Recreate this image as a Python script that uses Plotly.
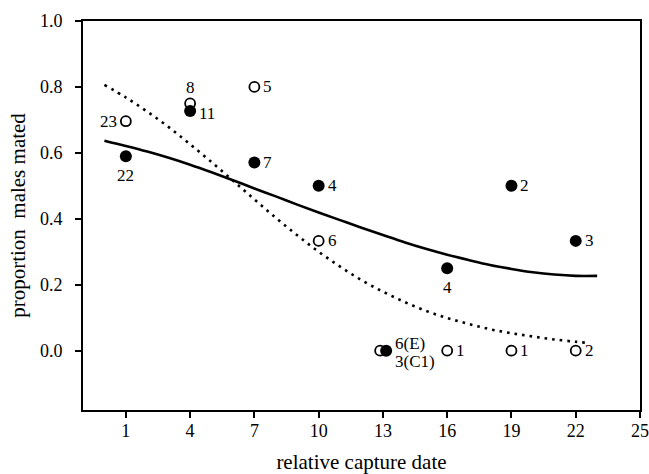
import plotly.graph_objects as go

# Observed proportions (filled = mated group A, open = group B)
filled_x = [1, 4, 7, 10, 13.15, 16, 19, 22]
filled_y = [0.59, 0.727, 0.571, 0.50, 0.0, 0.25, 0.50, 0.333]
filled_lbl = ["22", "11", "7", "4", "3(C1)", "4", "2", "3"]

open_x = [1, 4, 7, 10, 12.87, 16, 19, 22]
open_y = [0.696, 0.75, 0.80, 0.333, 0.0, 0.0, 0.0, 0.0]
open_lbl = ["23", "8", "5", "6", "6(E)", "1", "1", "2"]

# Fitted curves
solid_x = [0, 1, 2, 3, 4, 5, 6, 7, 8, 9, 10, 11, 12, 13, 14, 15, 16, 17, 18, 19, 20, 21, 22, 23]
solid_y = [0.637, 0.621, 0.604, 0.585, 0.564, 0.541, 0.517, 0.492, 0.468, 0.443, 0.419, 0.396,
           0.373, 0.351, 0.329, 0.309, 0.291, 0.275, 0.260, 0.248, 0.238, 0.231, 0.227, 0.227]

dot_x = [0, 1, 2, 3, 4, 5, 6, 7, 8, 9, 10, 11, 12, 13, 14, 15, 16, 17, 18, 19, 20, 21, 22, 22.5]
dot_y = [0.806, 0.768, 0.725, 0.678, 0.626, 0.572, 0.516, 0.459, 0.403, 0.350, 0.300, 0.255,
         0.214, 0.179, 0.148, 0.121, 0.099, 0.081, 0.065, 0.053, 0.043, 0.034, 0.027, 0.024]

x_ticks = [1, 4, 7, 10, 13, 16, 19, 22, 25]
y_ticks = [0.0, 0.2, 0.4, 0.6, 0.8, 1.0]

# label placement: (xshift, yshift, xanchor)
filled_pos = [(0, -19, "center"), (7, -2, "left"), (7, 0, "left"), (7, 0, "left"),
              (7, -11, "left"), (0, -19, "center"), (7, 0, "left"), (7, 0, "left")]
open_pos = [(-7, 0, "right"), (0, 16, "center"), (7, 0, "left"), (7, 0, "left"),
            (13, 7, "left"), (7, 0, "left"), (7, 0, "left"), (7, 0, "left")]

FONT = "Liberation Serif"

fig = go.Figure()
fig.add_trace(go.Scatter(x=dot_x, y=dot_y, mode="lines", line_shape="spline",
                         line=dict(color="black", width=2.6, dash="2.6px,5px"),
                         hoverinfo="skip", showlegend=False))
fig.add_trace(go.Scatter(x=solid_x, y=solid_y, mode="lines", line_shape="spline",
                         line=dict(color="black", width=2.6),
                         hoverinfo="skip", showlegend=False))
fig.add_trace(go.Scatter(x=open_x, y=open_y, mode="markers",
                         marker=dict(symbol="circle", size=10, color="white",
                                     line=dict(color="black", width=1.8)),
                         showlegend=False))
fig.add_trace(go.Scatter(x=filled_x, y=filled_y, mode="markers",
                         marker=dict(symbol="circle", size=12, color="black",
                                     line=dict(color="black", width=0)),
                         showlegend=False))

for xs, ys, lbls, pos in [(filled_x, filled_y, filled_lbl, filled_pos),
                          (open_x, open_y, open_lbl, open_pos)]:
    for x, y, t, (dx, dy, xa) in zip(xs, ys, lbls, pos):
        fig.add_annotation(x=x, y=y, text=t, showarrow=False,
                           xanchor=xa, yanchor="middle", xshift=dx, yshift=dy,
                           font=dict(family=FONT, size=17, color="black"))

fig.update_layout(
    width=649, height=474,
    margin=dict(l=83, r=9, t=21, b=64, autoexpand=False),
    paper_bgcolor="white", plot_bgcolor="white",
    font=dict(family=FONT, color="black"),
    showlegend=False,
)
fig.update_xaxes(range=[-1, 25], tickvals=x_ticks, ticktext=[str(v) for v in x_ticks],
                 automargin=False, ticklabeloverflow="allow",
                 showline=True, linecolor="black", linewidth=2, mirror=True,
                 ticks="outside", ticklen=6, tickwidth=1.5, tickcolor="black",
                 showgrid=False, zeroline=False, ticklabelstandoff=-3,
                 tickfont=dict(family=FONT, size=18),
                 title=dict(text="relative capture date", font=dict(family=FONT, size=21),
                            standoff=16))
fig.update_yaxes(range=[-0.18, 1.0], tickvals=y_ticks,
                 ticktext=["%.1f" % v for v in y_ticks],
                 automargin=False,
                 showline=True, linecolor="black", linewidth=2, mirror=True,
                 ticks="outside", ticklen=6, tickwidth=1.5, tickcolor="black",
                 showgrid=False, zeroline=False, ticklabelstandoff=9,
                 tickfont=dict(family=FONT, size=18),
                 title=dict(text="proportion  males mated", font=dict(family=FONT, size=21),
                            standoff=9))

fig.write_html("out.html", config={"displayModeBar": False},
               post_script="document.body.style.margin='0';document.body.style.overflow='hidden';")
